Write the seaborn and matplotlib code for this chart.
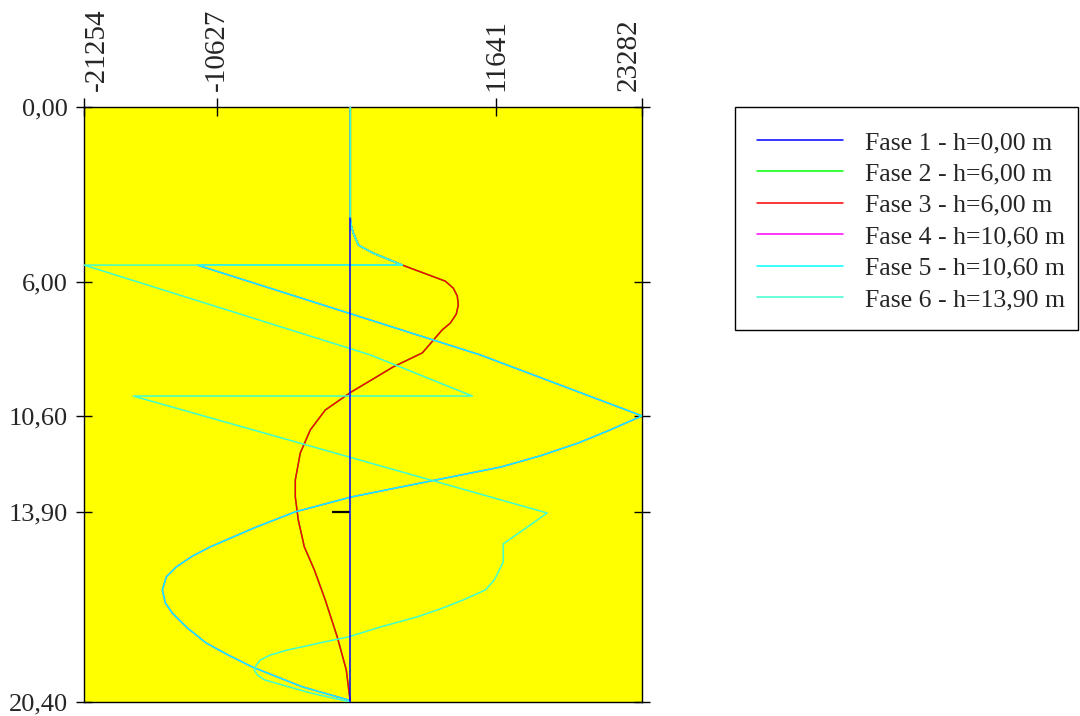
import matplotlib
matplotlib.use("Agg")
import matplotlib.pyplot as plt
from matplotlib.patches import Rectangle
import pandas as pd
import seaborn as sns

# Bending moment envelopes along the wall, one per construction phase
phase_labels = [
    "Fase 1 - h=0,00 m",
    "Fase 2 - h=6,00 m",
    "Fase 3 - h=6,00 m",
    "Fase 4 - h=10,60 m",
    "Fase 5 - h=10,60 m",
    "Fase 6 - h=13,90 m",
]
phase_colors = ["#0000FF", "#00FF00", "#FF0000", "#FF00FF", "#00FFFF", "#3FFFCF"]
phase_zorder = [8, 3, 4, 5, 6, 7]

# Phase 1: wall at rest
fase1_depth = [3.81, 20.40]
fase1_value = [0, 0]

# Phase 3 (phase 2 coincides with it)
fase3_depth = [0.00, 3.81, 4.08, 4.32, 4.73, 4.83, 5.01, 5.42, 5.97, 6.21, 6.48,
               6.79, 7.10, 7.41, 7.64, 8.43, 8.91, 9.36, 9.77, 10.39, 11.07,
               11.86, 12.79, 13.37, 14.16, 15.08, 15.87, 16.90, 18.17, 19.30,
               20.40]
fase3_value = [0, 0, 80, 240, 640, 1040, 1835, 4150, 7580, 8220, 8540,
               8620, 8460, 7980, 7340, 5750, 3430, 1680, 80, -2000, -3190,
               -3990, -4390, -4390, -4150, -3670, -2870, -2000, -1040, -320,
               0]
fase2_depth = fase3_depth
fase2_value = fase3_value

# Phase 5 (phase 4 coincides with it)
fase5_depth = [0.00, 3.81, 4.08, 4.32, 4.73, 4.83, 5.01, 5.42, 5.42, 8.50,
               10.59, 11.07, 11.52, 11.96, 12.34, 12.86, 13.37, 13.88, 14.40,
               14.74, 15.08, 15.40, 15.77, 16.11, 16.56, 17.00, 17.35, 17.86,
               18.38, 18.79, 19.20, 19.88, 20.33, 20.40]
fase5_value = [0, 0, 80, 240, 640, 1040, 1835, 4150, -12210, 10375,
               23282, 20750, 18200, 15160, 12050, 5990, 80, -4390, -7500,
               -9340, -11170, -12610, -13890, -14685, -15000, -14765, -14210,
               -13010, -11490, -9740, -7820, -3830, -160, 0]
fase4_depth = fase5_depth
fase4_value = fase5_value

# Phase 6
fase6_depth = [0.00, 3.81, 4.08, 4.32, 4.73, 4.83, 5.01, 5.42, 5.42, 8.50,
               9.91, 9.91, 13.92, 14.98, 15.60, 16.22, 16.56, 16.90, 17.21,
               17.48, 17.83, 18.17, 18.37, 18.62, 18.79, 18.96, 19.13, 19.30,
               19.47, 19.64, 20.09, 20.40]
fase6_value = [0, 0, 80, 240, 640, 1040, 1835, 4150, -21254, 1600,
               9740, -17320, 15720, 12210, 12210, 11490, 10775, 9020, 7180,
               5350, 2390, -160, -2390, -5030, -6385, -7180, -7500, -7660,
               -7420, -6860, -3190, 0]

moment_ticks = [-21254, -10627, 11641, 23282]
moment_tick_labels = ["-21254", "-10627", "11641", "23282"]
depth_ticks = [0.00, 6.00, 10.60, 13.90, 20.40]
depth_tick_labels = ["0,00", "6,00", "10,60", "13,90", "20,40"]
excavation_level = 13.90

series = [
    (fase1_depth, fase1_value),
    (fase2_depth, fase2_value),
    (fase3_depth, fase3_value),
    (fase4_depth, fase4_value),
    (fase5_depth, fase5_value),
    (fase6_depth, fase6_value),
]

sns.set_style("white")
plt.rcParams["font.family"] = ["Liberation Serif", "DejaVu Serif"]
plt.rcParams["font.size"] = 18.5

W, H = 1080, 716
fig = plt.figure(figsize=(W / 100, H / 100), dpi=100)
ax = fig.add_axes([84 / W, 1 - 702 / H, 558 / W, 595 / H])
ax.set_facecolor("#FFFF00")

for label, color, z, (depth, value) in zip(phase_labels, phase_colors, phase_zorder, series):
    df = pd.DataFrame({"depth": depth, "value": value})
    sns.lineplot(data=df, x="value", y="depth", sort=False, estimator=None,
                 color=color, linewidth=1.1, label=label, zorder=z, ax=ax,
                 legend=False)

ax.set_xlim(moment_ticks[0], moment_ticks[-1])
ax.set_ylim(depth_ticks[-1], depth_ticks[0])

# short marker at the final excavation level, left of the wall axis
span = moment_ticks[-1] - moment_ticks[0]
ax.hlines(excavation_level, -0.032 * span, 0, color="black", linewidth=1.6, zorder=7)

ax.xaxis.tick_top()
ax.set_xticks(moment_ticks, labels=moment_tick_labels, rotation=90)
ax.set_yticks(depth_ticks, labels=depth_tick_labels)
ax.tick_params(axis="x", which="both", top=True, bottom=False, direction="inout",
               length=13, width=1, pad=5, labelsize=21, color="black")
ax.tick_params(axis="y", which="both", left=True, right=True, direction="inout",
               length=12, width=1, pad=5.5, labelsize=19, color="black")
xlabels = ax.get_xticklabels()
xlabels[0].set_horizontalalignment("left")
xlabels[-1].set_horizontalalignment("right")
ax.set_xlabel("")
ax.set_ylabel("")
for sp in ax.spines.values():
    sp.set_color("black")
    sp.set_linewidth(1)

# legend: entries placed inside a separately drawn frame
handles = [ln for ln in ax.get_lines() if ln.get_label() in phase_labels]
handles.sort(key=lambda h: phase_labels.index(h.get_label()))
fig.patches.append(Rectangle((735 / W, 1 - 330 / H), 343 / W, 223 / H,
                             transform=fig.transFigure, fill=False,
                             edgecolor="black", linewidth=1))
leg = fig.legend(handles, phase_labels, loc="upper left",
                 bbox_to_anchor=(757 / W, 1 - 131 / H),
                 borderaxespad=0, borderpad=0, handlelength=3.35,
                 handletextpad=0.86, labelspacing=0.33, fontsize=18.5,
                 frameon=False)

fig.savefig("out.png", dpi=100, facecolor="white")
